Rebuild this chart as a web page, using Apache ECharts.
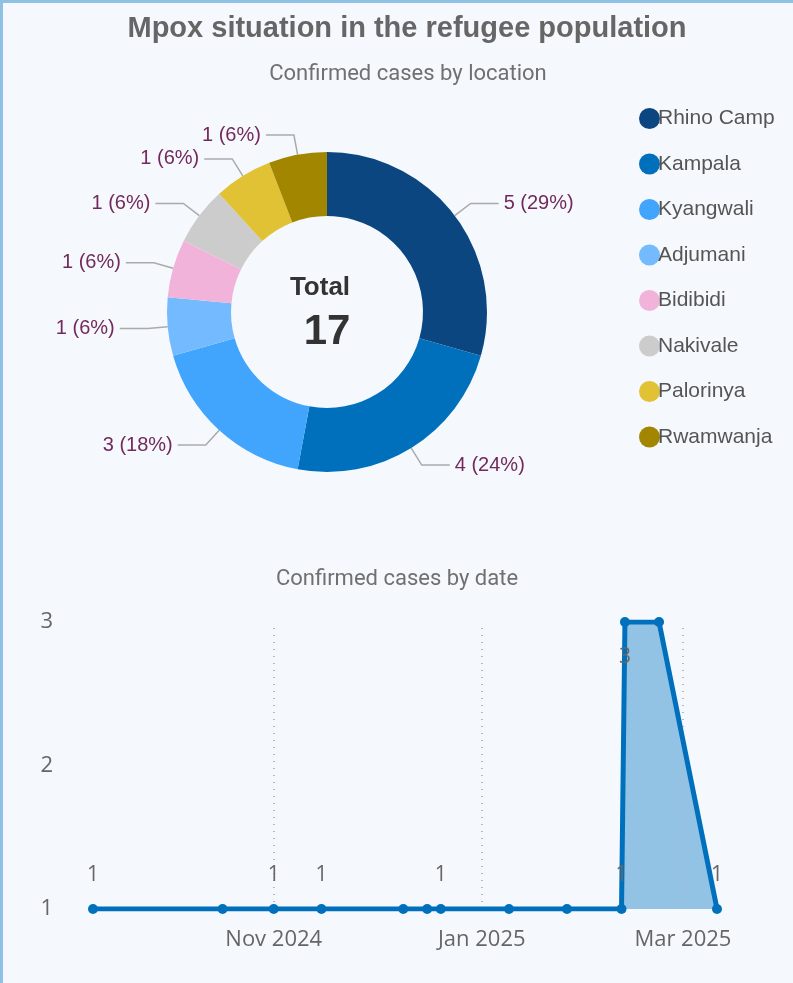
<!DOCTYPE html>
<html>
<head>
<meta charset="utf-8">
<script src="https://cdn.jsdelivr.net/npm/echarts@6/dist/echarts.min.js"></script>
<style>
  html, body { margin: 0; padding: 0; background: #f5f9fd; }
  #main { width: 793px; height: 983px; }
</style>
</head>
<body>
<div id="main"></div>
<script>
// cases by location
const locations = ['Rhino Camp', 'Kampala', 'Kyangwali', 'Adjumani', 'Bidibidi', 'Nakivale', 'Palorinya', 'Rwamwanja'];
const locationCases = [5, 4, 3, 1, 1, 1, 1, 1];
const locationColors = ['#0b4680', '#0070bd', '#41a5fd', '#73baff', '#f2b3da', '#cccccc', '#e1c234', '#a28600'];

// cases by date
const dates = ['2024-09-09', '2024-10-17', '2024-11-01', '2024-11-15', '2024-12-09', '2024-12-16', '2024-12-20',
  '2025-01-09', '2025-01-26', '2025-02-11', '2025-02-12', '2025-02-22', '2025-03-11'];
const dateCases = [1, 1, 1, 1, 1, 1, 1, 1, 1, 1, 3, 3, 1];
const labelledDates = ['2024-09-09', '2024-11-01', '2024-11-15', '2024-12-20', '2025-02-11', '2025-02-12', '2025-03-11'];
const monthTicks = ['2024-11-01', '2025-01-01', '2025-03-01'];

const total = locationCases.reduce((a, b) => a + b, 0);
const MONTHS = ['Jan', 'Feb', 'Mar', 'Apr', 'May', 'Jun', 'Jul', 'Aug', 'Sep', 'Oct', 'Nov', 'Dec'];
const ymax = Math.max(...dateCases);
const points = dates.map((d, i) => [d, dateCases[i]]);

const chart = echarts.init(document.getElementById('main'));

const option = {
  backgroundColor: '#f5f9fd',
  animation: false,
  title: [
    { text: 'Mpox situation in the refugee population', left: 402, top: 9, textAlign: 'center',
      textStyle: { fontFamily: 'Liberation Sans', fontSize: 29, fontWeight: 'bold', color: '#666' } },
    { text: 'Confirmed cases by location', left: 403, top: 58, textAlign: 'center',
      textStyle: { fontFamily: 'Roboto', fontSize: 22, fontWeight: 'normal', color: '#707070' } },
    { text: 'Confirmed cases by date', left: 392, top: 563, textAlign: 'center',
      textStyle: { fontFamily: 'Roboto', fontSize: 22, fontWeight: 'normal', color: '#707070' } },
    { text: 'Total', left: 315, top: 270, textAlign: 'center',
      textStyle: { fontFamily: 'Liberation Sans', fontSize: 26, fontWeight: 'bold', color: '#333' } },
    { text: String(total), left: 322, top: 306, textAlign: 'center',
      textStyle: { fontFamily: 'Liberation Sans', fontSize: 42, fontWeight: 'bold', color: '#333' } }
  ],
  legend: {
    orient: 'vertical',
    left: 634,
    top: 103,
    icon: 'circle',
    itemWidth: 21,
    itemHeight: 21,
    itemGap: 24.5,
    textStyle: { fontFamily: 'Liberation Sans', fontSize: 21, color: '#555', padding: [0, 0, 0, -7] },
    data: locations
  },
  graphic: [
    { type: 'rect', shape: { x: 0, y: 0, width: 793, height: 3 }, style: { fill: '#8fc1e4' } },
    { type: 'rect', shape: { x: 0, y: 0, width: 3, height: 983 }, style: { fill: '#8fc1e4' } }
  ],
  grid: { left: 93, right: 76, top: 622, bottom: 74 },
  xAxis: {
    type: 'time',
    min: dates[0],
    max: dates[dates.length - 1],
    axisLine: { show: false },
    axisTick: { show: false },
    splitLine: { show: false },
    axisLabel: {
      margin: 20,
      fontFamily: 'Open Sans',
      fontSize: 22,
      color: '#666',
      formatter: function (v) {
        const d = new Date(v);
        const m = d.getMonth();
        if (d.getDate() !== 1 || (m !== 10 && m !== 0 && m !== 2)) return '';
        return MONTHS[m] + ' ' + d.getFullYear();
      }
    }
  },
  yAxis: {
    type: 'value',
    min: 1,
    max: 3,
    interval: 1,
    axisLine: { show: false },
    axisTick: { show: false },
    splitLine: { show: false },
    axisLabel: { margin: 40, fontFamily: 'Open Sans', fontSize: 22, color: '#666' }
  },
  series: [
    {
      type: 'pie',
      center: [327, 312],
      radius: [96, 160],
      startAngle: 90,
      clockwise: true,
      avoidLabelOverlap: true,
      label: {
        fontFamily: 'Liberation Sans',
        fontSize: 20,
        color: '#74295c',
        formatter: p => p.value + ' (' + Math.round(p.value / total * 100) + '%)'
      },
      labelLine: { length: 20, length2: 28, lineStyle: { color: '#aaa', width: 1.5 } },
      data: locations.map((n, i) => ({ name: n, value: locationCases[i], itemStyle: { color: locationColors[i] } }))
    },
    {
      // filled area under the line
      type: 'line',
      data: points,
      symbol: 'none',
      lineStyle: { width: 0 },
      areaStyle: { color: '#93c3e4', opacity: 1 },
      silent: true,
      z: 1
    },
    {
      // dotted month guides, above the fill but under the line
      type: 'line',
      data: [],
      z: 2,
      markLine: {
        silent: true,
        z: 2,
        symbol: 'none',
        label: { show: false },
        lineStyle: { color: '#b5b9bf', type: [1, 6], width: 2 },
        data: monthTicks.map(d => ({ xAxis: d }))
      }
    },
    {
      type: 'line',
      data: dates.map((d, i) => ({
        value: points[i],
        label: {
          show: labelledDates.includes(d),
          position: dateCases[i] === ymax ? 'bottom' : 'top',
          distance: dateCases[i] === ymax ? 20 : 18
        }
      })),
      symbol: 'circle',
      symbolSize: 10,
      lineStyle: { color: '#0070bd', width: 5 },
      itemStyle: { color: '#0070bd' },
      label: { fontFamily: 'Open Sans', fontSize: 21, color: '#666' },
      z: 4
    }
  ]
};

chart.setOption(option);
</script>
</body>
</html>
